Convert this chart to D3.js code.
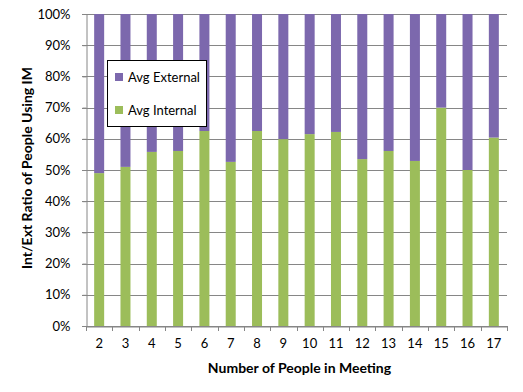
<!DOCTYPE html>
<html><head><meta charset="utf-8">
<script src="https://cdn.jsdelivr.net/npm/d3@7"></script>
<style>body{margin:0;background:#fff}svg{display:block}text{font-family:Lato,"Open Sans",sans-serif}</style>
</head><body><div id="chart"></div>
<script>
const categories = ["2","3","4","5","6","7","8","9","10","11","12","13","14","15","16","17"];
const avgInternal = [0.49,0.51,0.558,0.561,0.625,0.526,0.625,0.599,0.615,0.622,0.535,0.561,0.529,0.70,0.50,0.604];
const avgExternal = avgInternal.map(v => 1 - v);
const yTicks = [0,0.1,0.2,0.3,0.4,0.5,0.6,0.7,0.8,0.9,1.0];
const seriesNames = ["Avg Internal","Avg External"];
const colors = {"Avg Internal":"#9cbd5a","Avg External":"#7c68ad"};

const W=523,H=392, m={l:86,r:16,t:14,b:66};
const svg=d3.select("#chart").append("svg").attr("width",W).attr("height",H);
const x=d3.scaleBand().domain(categories).range([m.l,W-m.r]).paddingInner(0.62).paddingOuter(0.31);
const y=d3.scaleLinear().domain([0,1]).range([H-m.b,m.t]);

// gridlines
svg.append("g").selectAll("line").data(yTicks).join("line")
 .attr("x1",m.l-4).attr("x2",W-m.r).attr("y1",d=>Math.round(y(d))+0.5).attr("y2",d=>Math.round(y(d))+0.5)
 .attr("stroke","#868686").attr("stroke-width",1);

const data=categories.map((c,i)=>({cat:c,"Avg Internal":avgInternal[i],"Avg External":avgExternal[i]}));
const stack=d3.stack().keys(seriesNames)(data);
svg.append("g").selectAll("g").data(stack).join("g").attr("fill",d=>colors[d.key])
 .selectAll("rect").data(d=>d).join("rect")
 .attr("x",d=>x(d.data.cat)).attr("width",x.bandwidth())
 .attr("y",d=>y(d[1])).attr("height",d=>y(d[0])-y(d[1]));

// y axis
const ya=svg.append("g").attr("transform",`translate(${m.l+0.5},0)`)
 .call(d3.axisLeft(y).tickValues(yTicks).tickFormat(d3.format(".0%")).tickSize(4).tickPadding(12));
ya.select(".domain").attr("stroke","#868686");
ya.selectAll("line").attr("stroke","#868686");
ya.selectAll("text").attr("font-size",13).attr("fill","#000").attr("font-family","Lato,sans-serif");

// x axis
const xa=svg.append("g").attr("transform",`translate(0,${Math.round(y(0))+0.5})`)
 .call(d3.axisBottom(x).tickSize(0).tickPadding(12));
xa.select(".domain").attr("stroke","#868686");
xa.selectAll("text").attr("font-size",13).attr("fill","#000").attr("font-family","Lato,sans-serif");
const step=x.step();
const bounds=d3.range(categories.length+1).map(i=>m.l+i*step);
svg.append("g").selectAll("line").data(bounds).join("line")
 .attr("x1",d=>Math.round(d)+0.5).attr("x2",d=>Math.round(d)+0.5)
 .attr("y1",Math.round(y(0))).attr("y2",Math.round(y(0))+5).attr("stroke","#868686");

// titles
svg.append("text").attr("x",(m.l+W-m.r)/2+3).attr("y",373).attr("text-anchor","middle")
 .attr("font-size",14).attr("font-weight","bold").text("Number of People in Meeting");
svg.append("text").attr("transform",`translate(32,168) rotate(-90)`).attr("text-anchor","middle")
 .attr("font-size",14).attr("font-weight","bold").text("Int/Ext Ratio of People Using IM");

// legend
const lg=svg.append("g");
lg.append("rect").attr("x",107.5).attr("y",60.5).attr("width",99).attr("height",66).attr("fill","#fff").attr("stroke","#000");
const items=[["Avg External",77],["Avg Internal",110]];
items.forEach(([k,cy])=>{
 lg.append("rect").attr("x",115).attr("y",cy-4).attr("width",8).attr("height",8).attr("fill",colors[k]);
 lg.append("text").attr("x",128).attr("y",cy+4.5).attr("font-size",13).text(k);
});
</script></body></html>
